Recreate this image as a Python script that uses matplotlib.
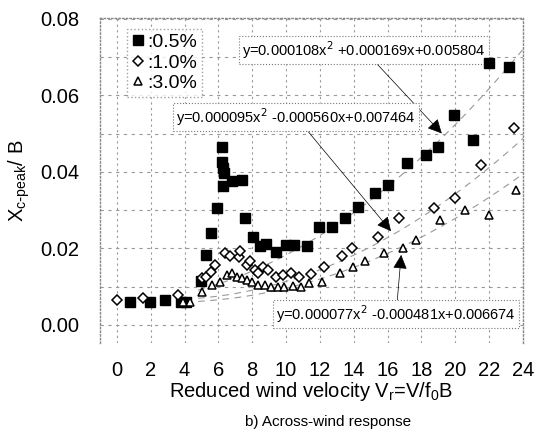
import numpy as np
import matplotlib
matplotlib.use("Agg")
import matplotlib.pyplot as plt

plt.rcParams['font.family'] = ['Liberation Sans', 'DejaVu Sans']

# 0.5% damping (filled squares)
sq_x = [0.8, 1.96, 2.83, 3.8, 4.1, 4.96, 5.25, 5.54, 5.93, 6.22, 6.22, 6.3, 6.35, 6.3,
        6.8, 7.38, 7.6, 8.06, 8.45, 8.84, 9.42, 10.0, 10.48, 11.26, 11.94, 12.7,
        13.5, 14.26, 15.23, 16.0, 17.17, 18.27, 19.0, 19.9, 21.05, 22.0, 23.2]
sq_y = [0.0061, 0.0061, 0.0066, 0.0061, 0.0061, 0.0116, 0.0183, 0.0240, 0.0305, 0.0466,
        0.0427, 0.0410, 0.0397, 0.0364, 0.0375, 0.0379, 0.0279, 0.0231, 0.0205, 0.0212,
        0.0190, 0.0209, 0.0209, 0.0206, 0.0257, 0.0257, 0.0279, 0.0309, 0.0344, 0.0366,
        0.0423, 0.0444, 0.0466, 0.0549, 0.0484, 0.0684, 0.0675]

# 1.0% damping (open diamonds)
di_x = [0.02, 1.57, 3.6, 5.06, 5.25, 5.54, 5.83, 6.41, 6.7, 7.19, 7.28, 7.67, 7.87,
        8.15, 8.33, 8.64, 8.93, 9.42, 9.8, 10.3, 10.77, 11.45, 12.23, 13.3, 13.87,
        15.42, 16.69, 18.72, 19.98, 21.53, 23.47]
di_y = [0.0065, 0.0071, 0.0078, 0.0122, 0.0126, 0.0139, 0.0157, 0.0187, 0.0179, 0.0177,
        0.0192, 0.0157, 0.0166, 0.0144, 0.0135, 0.0152, 0.0144, 0.0126, 0.0131, 0.0135,
        0.0126, 0.0133, 0.0152, 0.0179, 0.0200, 0.0231, 0.0279, 0.0305, 0.0331, 0.0418,
        0.0514]

# 3.0% damping (open triangles)
tr_x = [3.9, 4.3, 5.06, 5.64, 6.12, 6.51, 6.8, 7.09, 7.38, 7.68, 7.97, 8.35, 8.74, 9.13,
        9.5, 9.9, 10.4, 10.9, 11.36, 12.13, 13.2, 13.97, 14.69, 15.8, 16.9, 17.66,
        19.1, 20.56, 22.0, 23.56]
tr_y = [0.0061, 0.0061, 0.0085, 0.0105, 0.0113, 0.0131, 0.0135, 0.0126, 0.0122, 0.0118,
        0.0113, 0.0105, 0.0105, 0.0100, 0.0100, 0.0100, 0.0101, 0.0100, 0.0109, 0.0113,
        0.0135, 0.0152, 0.0166, 0.0187, 0.0200, 0.0222, 0.0274, 0.0301, 0.0288, 0.0353]

# quadratic trend-line coefficients (as printed on the chart)
fit_05 = [0.000108, 0.000169, 0.005804]
fit_10 = [0.000095, -0.000560, 0.007464]
fit_30 = [0.000077, -0.000481, 0.006674]

eq_05 = "y=0.000108x$^2$ +0.000169x+0.005804"
eq_10 = "y=0.000095x$^2$ -0.000560x+0.007464"
eq_30 = "y=0.000077x$^2$ -0.000481x+0.006674"

x_ticks = list(range(0, 25, 2))
y_ticks = [0.00, 0.02, 0.04, 0.06, 0.08]

fig = plt.figure(figsize=(5.37, 4.34), dpi=100)
ax = fig.add_axes([0.186, 0.21, 0.788, 0.749])

ax.set_xlim(-1, 24)
ax.set_ylim(-0.0047, 0.0803)

# grid
for xv in x_ticks:
    ax.axvline(xv, color='#999999', lw=0.8, ls=(0, (2, 3)), zorder=0)
for yv in np.arange(0.0, 0.081, 0.01):
    ax.axhline(yv, color='#999999', lw=0.8, ls=(0, (3, 4)), zorder=0)
for s in ax.spines.values():
    s.set_color('#888888')
    s.set_linestyle(':')
    s.set_linewidth(1.0)
ax.spines['bottom'].set_visible(False)

# trend lines
xx = np.linspace(4.8, 24, 200)
for c in (fit_05, fit_10, fit_30):
    ax.plot(xx, np.polyval(c, xx), color='#999999', lw=0.8, ls=(0, (6, 5)), zorder=1)

ax.plot(sq_x, sq_y, ls='none', marker='s', ms=7.5, mfc='black', mec='black', zorder=6,
        label=':0.5%')
ax.plot(di_x, di_y, ls='none', marker='D', ms=5, mfc='white', mec='black', mew=1.1,
        zorder=6, label=':1.0%')
ax.plot(tr_x, tr_y, ls='none', marker='^', ms=5.5, mfc='white', mec='black', mew=1.1,
        zorder=6, label=':3.0%')

ax.set_xticks(x_ticks)
ax.set_yticks(y_ticks)
ax.set_yticklabels([f"{v:.2f}" for v in y_ticks])
ax.tick_params(axis='both', length=0, labelsize=14.5)
ax.tick_params(axis='x', pad=13)
ax.tick_params(axis='y', pad=15)

ax.set_xlabel("Reduced wind velocity V$_\\mathregular{r}$=V/f$_\\mathregular{0}$B", fontsize=14.5, labelpad=0)
ax.set_ylabel("X$_\\mathregular{c\\text{-}peak}$/ B", fontsize=14.5, labelpad=6)
fig.text(0.61, 0.027, "b) Across-wind response", ha='center', va='center', fontsize=11)

leg = ax.legend(loc='upper left', bbox_to_anchor=(0.05, 0.985), fontsize=14,
                handlelength=0.6, handletextpad=0.2, borderpad=0.25, labelspacing=0.15,
                frameon=True, fancybox=False, borderaxespad=0.3)
leg.get_frame().set_edgecolor('#888888')
leg.get_frame().set_linestyle(':')
leg.get_frame().set_linewidth(1.0)

box = dict(boxstyle='square,pad=0.2', fc='white', ec='#777777', lw=0.8, ls=':')
arrow_k = dict(arrowstyle='-|>', color='black', lw=0.5, mutation_scale=22,
               shrinkA=0, shrinkB=0)

ax.annotate(eq_05, xy=(19.2, np.polyval(fit_05, 19.2) + 0.0012), xytext=(14.6, 0.0719),
            ha='center', va='center', fontsize=10.5, bbox=box, arrowprops=arrow_k, zorder=5)
ax.annotate(eq_10, xy=(16.2, 0.0245), xytext=(10.6, 0.0543),
            ha='center', va='center', fontsize=10.5, bbox=box, arrowprops=arrow_k, zorder=5)
ax.annotate(eq_30, xy=(16.8, 0.0183), xytext=(16.5, 0.0028),
            ha='center', va='center', fontsize=10.5, bbox=box, arrowprops=arrow_k, zorder=5)

fig.savefig("out.png", dpi=100)
